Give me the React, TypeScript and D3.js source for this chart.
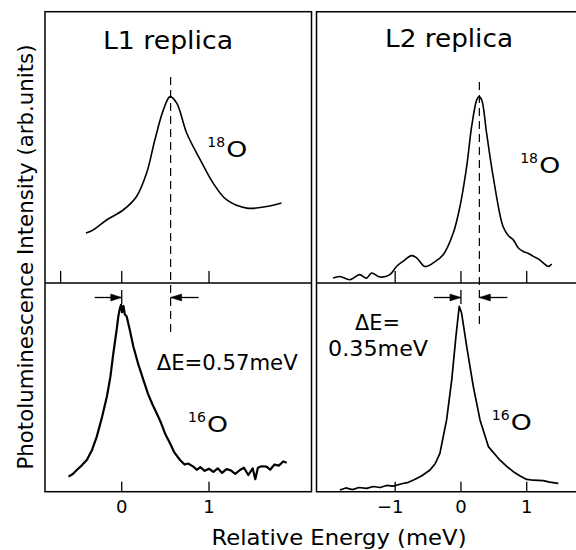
import React from 'react';
import * as d3 from 'd3';

const FONT = "'DejaVu Sans', 'Liberation Sans', sans-serif";

// ---- data (energy in meV, intensity in arb. units 0..100) ----
const l1TopE = [-0.41, -0.325, -0.17, 0.02, 0.17, 0.286, 0.38, 0.477, 0.553, 0.63, 0.745, 0.9, 1.046, 1.2, 1.43, 1.66, 1.83];
const l1TopI = [18.4, 19.6, 23.3, 27.0, 31.9, 40.6, 52.8, 63.8, 68.7, 66.3, 55.2, 45.4, 36.9, 30.7, 27.6, 28.2, 29.5];

const l2TopE = [-1.944, -1.84, -1.69, -1.54, -1.435, -1.36, -1.23, -1.08, -0.98, -0.88, -0.75, -0.67, -0.55, -0.42, -0.27, -0.117, -0.015, 0.087, 0.163, 0.24, 0.274, 0.315, 0.39, 0.49, 0.64, 0.72, 0.796, 0.87, 0.948, 1.02, 1.1, 1.18, 1.25, 1.33, 1.38];
const l2TopI = [1.8, 2.4, 1.2, 3.1, 1.8, 3.7, 2.2, 3.1, 6.1, 8.0, 10.1, 9.2, 6.1, 7.4, 10.4, 18.4, 28.2, 42.9, 57.7, 67.5, 68.7, 67.5, 55.2, 39.2, 20.8, 17.5, 15.9, 13.0, 11.6, 11.0, 9.8, 8.8, 7.4, 6.1, 7.0];

const l1BotE = [-0.61, -0.56, -0.515, -0.46, -0.4, -0.34, -0.286, -0.23, -0.17, -0.13, -0.096, -0.06, -0.039, -0.02, -0.008, 0.005, 0.02, 0.035, 0.057, 0.09, 0.133, 0.19, 0.248, 0.3, 0.35, 0.4, 0.45, 0.5, 0.553, 0.6, 0.668, 0.72, 0.76, 0.82, 0.86, 0.9, 0.95, 1.0, 1.05, 1.1, 1.15, 1.2, 1.25, 1.3, 1.355, 1.4, 1.45, 1.5, 1.53, 1.56, 1.6, 1.66, 1.7, 1.75, 1.8, 1.85, 1.89];
const l1BotI = [7.2, 8.5, 10.4, 12.5, 15.2, 20, 26.4, 35, 45.6, 55, 66.4, 77, 84, 88, 89.5, 86, 89, 85, 84, 78, 69.6, 61, 53.6, 47, 42, 37.6, 33, 27.5, 23.2, 19, 15.2, 13, 13.5, 12, 10.5, 11.8, 10, 11, 9.5, 11.2, 9, 10.8, 10.2, 8.5, 10.4, 11.5, 8, 11.2, 6, 11.5, 12.2, 12, 10.5, 13, 12.5, 14.5, 13.9];

const l2BotE = [-1.84, -1.75, -1.65, -1.55, -1.435, -1.33, -1.23, -1.13, -1.03, -0.9, -0.8, -0.72, -0.6, -0.47, -0.39, -0.32, -0.218, -0.14, -0.076, -0.026, 0.01, 0.087, 0.188, 0.29, 0.417, 0.59, 0.7, 0.796, 0.9, 1.0, 1.1, 1.25, 1.35, 1.48];
const l2BotI = [0.8, 1.8, 1.0, 2.0, 1.6, 2.5, 2.0, 3.0, 2.7, 3.8, 4.5, 5.6, 7.5, 10.4, 13.5, 18.4, 34.4, 53.6, 74.4, 88.8, 85.6, 69.6, 50.4, 34.4, 21.6, 15.2, 12.0, 9.6, 7.5, 5.9, 5.5, 5.3, 4.6, 4.0];

const shiftL1 = 0.56;
const shiftL2 = 0.28;

const topTicksL1 = [-0.7, 0, 1];
const topTicksL2 = [-1, 0, 1];
const botTicksL1 = [0, 1];
const botTicksL2 = [-1, 0, 1];
const tickLabelsL1 = ['0', '1'];
const tickLabelsL2 = ['\u22121', '0', '1'];

const titles = ['L1 replica', 'L2 replica'];
const yLabel = 'Photoluminescence Intensity (arb.units)';
const xLabel = 'Relative Energy (meV)';

// ---- layout ----
const X0 = 45, X1 = 311.5, X2 = 316.5, X3 = 580;
const YT = 11.7, YM = 283, YB = 491.7;

const xL = d3.scaleLinear().domain([-0.879, 2.174]).range([X0, X1]);
const xR = d3.scaleLinear().domain([-2.196, 1.81]).range([X2, X3]);
const yTop = d3.scaleLinear().domain([0, 100]).range([YM, YT]);
const yBot = d3.scaleLinear().domain([0, 100]).range([YB, YM]);

function path(xs: number[], ys: number[], xs_: d3.ScaleLinear<number, number>, ys_: d3.ScaleLinear<number, number>, curve: d3.CurveFactory) {
  const pts = xs.map((e, i) => [e, ys[i]] as [number, number]);
  return d3.line<[number, number]>().x(d => xs_(d[0])).y(d => ys_(d[1])).curve(curve)(pts) || '';
}

function Iso({ x, y, mass }: { x: number; y: number; mass: string }) {
  return (
    <g>
      <text x={x} y={y - 10} fontFamily={FONT} fontSize={14} fill="#000">{mass}</text>
      <text x={x + 19} y={y} fontFamily={FONT} fontSize={21} fill="#000" textLength={21} lengthAdjust="spacingAndGlyphs">O</text>
    </g>
  );
}

function Arrows({ xs, x0, xShift }: { xs: d3.ScaleLinear<number, number>; x0: number; xShift: number }) {
  const y = 297.5;
  const a = xs(x0), b = xs(xShift);
  const head = (tip: number, dir: number) =>
    `M${tip},${y} L${tip - dir * 11},${y - 3.5} L${tip - dir * 11},${y + 3.5} Z`;
  return (
    <g stroke="#000" fill="#000">
      <line x1={a - 27} x2={a} y1={y} y2={y} strokeWidth={1.3} />
      <path d={head(a, 1)} strokeWidth={0.5} />
      <line x1={a} x2={a} y1={290} y2={304} strokeWidth={1.3} />
      <line x1={b + 28} x2={b} y1={y} y2={y} strokeWidth={1.3} />
      <path d={head(b, -1)} strokeWidth={0.5} />
    </g>
  );
}

export default function App() {
  return (
    <svg width={576} height={550} style={{ position: 'absolute', left: 0, top: 0, background: '#fff' }}>
      <rect x={0} y={0} width={576} height={550} fill="#fff" />
      {/* frames */}
      <g stroke="#000" strokeWidth={1.5} fill="none">
        <rect x={X0} y={YT} width={X1 - X0} height={YB - YT} />
        <line x1={X0} x2={X1} y1={YM} y2={YM} />
        <path d={`M${X3},${YT} L${X2},${YT} L${X2},${YB} L${X3},${YB}`} />
        <line x1={X2} x2={X3} y1={YM} y2={YM} />
      </g>
      {/* ticks */}
      <g stroke="#000" strokeWidth={1.3}>
        {topTicksL1.map((t, i) => <line key={'tl' + i} x1={xL(t)} x2={xL(t)} y1={YM} y2={YM - 12} />)}
        {topTicksL2.map((t, i) => <line key={'tr' + i} x1={xR(t)} x2={xR(t)} y1={YM} y2={YM - 12} />)}
        {botTicksL1.map((t, i) => <line key={'bl' + i} x1={xL(t)} x2={xL(t)} y1={YB} y2={YB - 10} />)}
        {botTicksL2.map((t, i) => <line key={'br' + i} x1={xR(t)} x2={xR(t)} y1={YB} y2={YB - 10} />)}
      </g>
      <g fontFamily={FONT} fontSize={18} textAnchor="middle" fill="#000">
        {botTicksL1.map((t, i) => <text key={'ll' + i} x={xL(t)} y={513}>{tickLabelsL1[i]}</text>)}
        {botTicksL2.map((t, i) => <text key={'lr' + i} x={xR(t) - (t < 0 ? 5 : 0)} y={513}>{tickLabelsL2[i]}</text>)}
      </g>
      {/* dashed shift lines */}
      <g stroke="#000" strokeWidth={1.2} strokeDasharray="8,5">
        <line x1={xL(shiftL1)} x2={xL(shiftL1)} y1={77} y2={337} />
        <line x1={xR(shiftL2)} x2={xR(shiftL2)} y1={82} y2={327} />
      </g>
      {/* curves */}
      <g fill="none" stroke="#000" strokeLinejoin="round">
        <path d={path(l1TopE, l1TopI, xL, yTop, d3.curveCatmullRom)} strokeWidth={1.6} />
        <path d={path(l2TopE, l2TopI, xR, yTop, d3.curveCatmullRom)} strokeWidth={1.6} />
        <path d={path(l1BotE, l1BotI, xL, yBot, d3.curveLinear)} strokeWidth={2.2} />
        <path d={path(l2BotE, l2BotI, xR, yBot, d3.curveLinear)} strokeWidth={1.7} />
      </g>
      <Arrows xs={xL} x0={0} xShift={shiftL1} />
      <Arrows xs={xR} x0={0} xShift={shiftL2} />
      {/* texts */}
      <g fontFamily={FONT} fill="#000">
        <text x={168} y={49.3} fontSize={24} textAnchor="middle" textLength={130} lengthAdjust="spacingAndGlyphs">{titles[0]}</text>
        <text x={449} y={47} fontSize={24} textAnchor="middle" textLength={128} lengthAdjust="spacingAndGlyphs">{titles[1]}</text>
        <text x={xL(0.4)} y={yBot(58.4)} fontSize={22} textLength={141} lengthAdjust="spacingAndGlyphs">ΔE=0.57meV</text>
        <text x={xR(-1.61)} y={yBot(77.5)} fontSize={22} textLength={45} lengthAdjust="spacingAndGlyphs">ΔE=</text>
        <text x={xR(-2.02)} y={yBot(65)} fontSize={22} textLength={100} lengthAdjust="spacingAndGlyphs">0.35meV</text>
        <text transform="translate(33,257) rotate(-90)" fontSize={22} textAnchor="middle" textLength={425} lengthAdjust="spacingAndGlyphs">{yLabel}</text>
        <text x={339} y={545} fontSize={21} textAnchor="middle" textLength={255} lengthAdjust="spacingAndGlyphs">{xLabel}</text>
      </g>
      <Iso x={xL(0.98)} y={yTop(46.5)} mass="18" />
      <Iso x={xR(0.9)} y={yTop(40.5)} mass="18" />
      <Iso x={xL(0.76)} y={yBot(28.8)} mass="16" />
      <Iso x={xR(0.47)} y={yBot(29.6)} mass="16" />
    </svg>
  );
}
